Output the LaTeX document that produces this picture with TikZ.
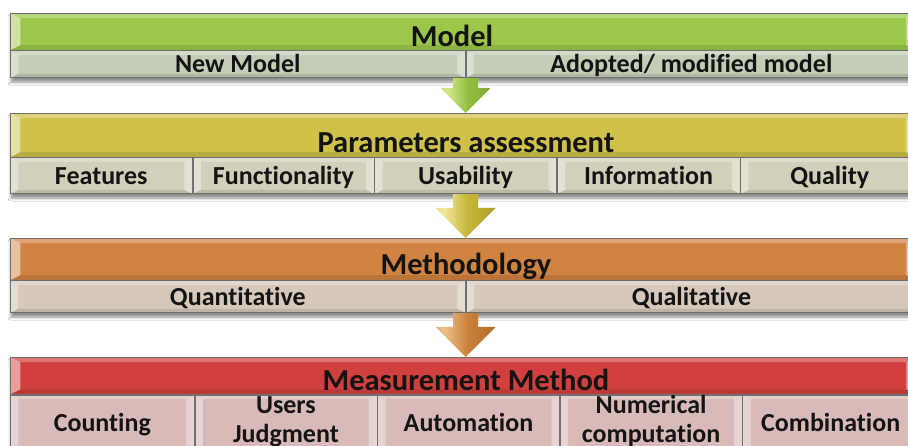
\documentclass[tikz,border=0pt]{standalone}
\usepackage{fontspec}
\setmainfont{Carlito}[RawFeature=-liga]
\usetikzlibrary{calc,backgrounds,shadows.blur}

% band and cell colours
\definecolor{hdrGreen}{HTML}{9DC74A}
\definecolor{hdrYellow}{HTML}{CFC14A}
\definecolor{hdrOrange}{HTML}{D18342}
\definecolor{hdrRed}{HTML}{D1403E}
\definecolor{subGreen}{HTML}{C4CEB6}
\definecolor{subYellow}{HTML}{D2CFBA}
\definecolor{subOrange}{HTML}{D6C8BA}
\definecolor{subRed}{HTML}{D8BAB8}
\definecolor{edgeGrey}{HTML}{6E6E6E}

% arrow colours: base, highlight, shade
\definecolor{agBase}{HTML}{94BE42}
\definecolor{agLight}{HTML}{D2E88C}
\definecolor{agDark}{HTML}{6F9428}
\definecolor{ayBase}{HTML}{C4B638}
\definecolor{ayLight}{HTML}{F0E89A}
\definecolor{ayDark}{HTML}{968A1E}
\definecolor{aoBase}{HTML}{C8803A}
\definecolor{aoLight}{HTML}{EDC08C}
\definecolor{aoDark}{HTML}{97591F}

\pgfdeclarehorizontalshading{arrowGreen}{100bp}{color(0bp)=(agBase); color(32bp)=(agLight); color(52bp)=(agBase); color(100bp)=(agDark)}
\pgfdeclarehorizontalshading{arrowYellow}{100bp}{color(0bp)=(ayBase); color(32bp)=(ayLight); color(52bp)=(ayBase); color(100bp)=(ayDark)}
\pgfdeclarehorizontalshading{arrowOrange}{100bp}{color(0bp)=(aoBase); color(32bp)=(aoLight); color(52bp)=(aoBase); color(100bp)=(aoDark)}

% bevelled edges drawn inside a box (#1 side width, #2 top/bottom height, #3/#4 side lightness)
\newcommand{\boxbevel}[4]{%
  \coordinate (bnw) at (path picture bounding box.north west);
  \coordinate (bne) at (path picture bounding box.north east);
  \coordinate (bsw) at (path picture bounding box.south west);
  \coordinate (bse) at (path picture bounding box.south east);
  \fill[white,opacity=.28] (bnw) -- (bne) -- ($(bne)+(-#1,-#2)$) -- ($(bnw)+(#1,-#2)$) -- cycle;
  \fill[black,opacity=.10] (bsw) -- (bse) -- ($(bse)+(-#1,#2)$) -- ($(bsw)+(#1,#2)$) -- cycle;
  \fill[white,opacity=#3] (bnw) -- ($(bnw)+(#1,-#2)$) -- ($(bsw)+(#1,#2)$) -- (bsw) -- cycle;
  \fill[white,opacity=#4] (bne) -- ($(bne)+(-#1,-#2)$) -- ($(bse)+(-#1,#2)$) -- (bse) -- cycle;
}

% block arrow from the bottom of one band to the top of the next
% #3 shading, #4 half width of the head, #5 length of the head
\newcommand{\flowarrow}[5]{%
  \shade[shading=#3]
    let \p1=(#1), \p2=(#2) in
    (\x1-12.5pt,\y1) -- (\x1+12.5pt,\y1) -- (\x1+12.5pt,\y2+#5) -- (\x1+#4,\y2+#5)
    -- (\x1,\y2) -- (\x1-#4,\y2+#5) -- (\x1-12.5pt,\y2+#5) -- cycle;
}

\begin{document}
\begin{tikzpicture}[x=1pt,y=-1pt,
  band/.style={draw=edgeGrey, line width=.5pt, anchor=north west, inner sep=0pt,
    minimum width=906pt, minimum height=#1,
    path picture={\boxbevel{10pt}{5pt}{.5}{.5}}},
  cellbox/.style={draw=edgeGrey, line width=.6pt, anchor=north west, inner sep=0pt,
    minimum height=#1, text height=16.5pt, text depth=0pt,
    font=\fontsize{26}{29}\selectfont\bfseries, text=black!92,
    path picture={\boxbevel{8pt}{4pt}{.38}{.38}}},
  twoline/.style={align=center, text height=40pt, text depth=0pt},
  hdrtxt/.style={anchor=base, inner sep=0pt, font=\fontsize{30.5}{32}\selectfont\bfseries, text=black!92},
  bandshadow/.style={fill=white, blur shadow={shadow xshift=1pt, shadow yshift=-4pt,
    shadow blur radius=3pt, shadow opacity=45}}
]
\useasboundingbox (0,0) rectangle (908,446);
\clip (0,0) rectangle (908,446);

% ---- Model ----
\node[band=37pt, fill=hdrGreen] (mh) at (10,13) {};
\node[cellbox=27pt, minimum width=455pt, fill=subGreen] (m1) at (mh.south west) {New Model};
\node[cellbox=27pt, minimum width=451pt, fill=subGreen] (m2) at (m1.north east) {Adopted/ modified model};
\node[hdrtxt] (mlab) at (452,47) {Model};

% ---- Parameters assessment ----
\node[band=44pt, fill=hdrYellow] (ph) at (10,113) {};
\node[cellbox=36pt, minimum width=182pt, fill=subYellow] (p1) at (ph.south west) {Features};
\node[cellbox=36pt, minimum width=181pt, fill=subYellow] (p2) at (p1.north east) {Functionality};
\node[cellbox=36pt, minimum width=182pt, fill=subYellow] (p3) at (p2.north east) {Usability};
\node[cellbox=36pt, minimum width=183pt, fill=subYellow] (p4) at (p3.north east) {Information};
\node[cellbox=36pt, minimum width=178pt, fill=subYellow] (p5) at (p4.north east) {Quality};
\node[hdrtxt] (plab) at (466,153) {Parameters assessment};

% ---- Methodology ----
\node[band=42pt, fill=hdrOrange] (qh) at (10,238) {};
\node[cellbox=32pt, minimum width=455pt, fill=subOrange] (q1) at (qh.south west) {Quantitative};
\node[cellbox=32pt, minimum width=451pt, fill=subOrange] (q2) at (q1.north east) {Qualitative};
\node[hdrtxt] (qlab) at (466,275) {Methodology};

% ---- Measurement Method ----
\node[band=37pt, fill=hdrRed] (rh) at (10,357) {};
\node[cellbox=56pt, minimum width=184pt, fill=subRed] (r1) at (rh.south west) {Counting};
\node[cellbox=56pt, minimum width=182pt, fill=subRed, twoline] (r2) at (r1.north east) {Users\\Judgment};
\node[cellbox=56pt, minimum width=182pt, fill=subRed] (r3) at (r2.north east) {Automation};
\node[cellbox=56pt, minimum width=182pt, fill=subRed, twoline] (r4) at (r3.north east) {Numerical\\computation};
\node[cellbox=56pt, minimum width=176pt, fill=subRed] (r5) at (r4.north east) {Combination};
\node[hdrtxt] (rlab) at (466,391) {Measurement Method};

% drop shadows under each band
\begin{scope}[on background layer]
  \fill[white] (0,0) rectangle (908,446);
  \path[bandshadow] (mh.north west) rectangle (m2.south east);
  \path[bandshadow] (ph.north west) rectangle (p5.south east);
  \path[bandshadow] (qh.north west) rectangle (q2.south east);
  \path[bandshadow] (rh.north west) rectangle (r5.south east);
\end{scope}

% arrows between the bands
\flowarrow{m1.south east}{ph.north}{arrowGreen}{25pt}{25pt}
\flowarrow{p3.south}{qh.north}{arrowYellow}{30pt}{30pt}
\flowarrow{q1.south east}{rh.north}{arrowOrange}{30pt}{30pt}
\end{tikzpicture}
\end{document}
